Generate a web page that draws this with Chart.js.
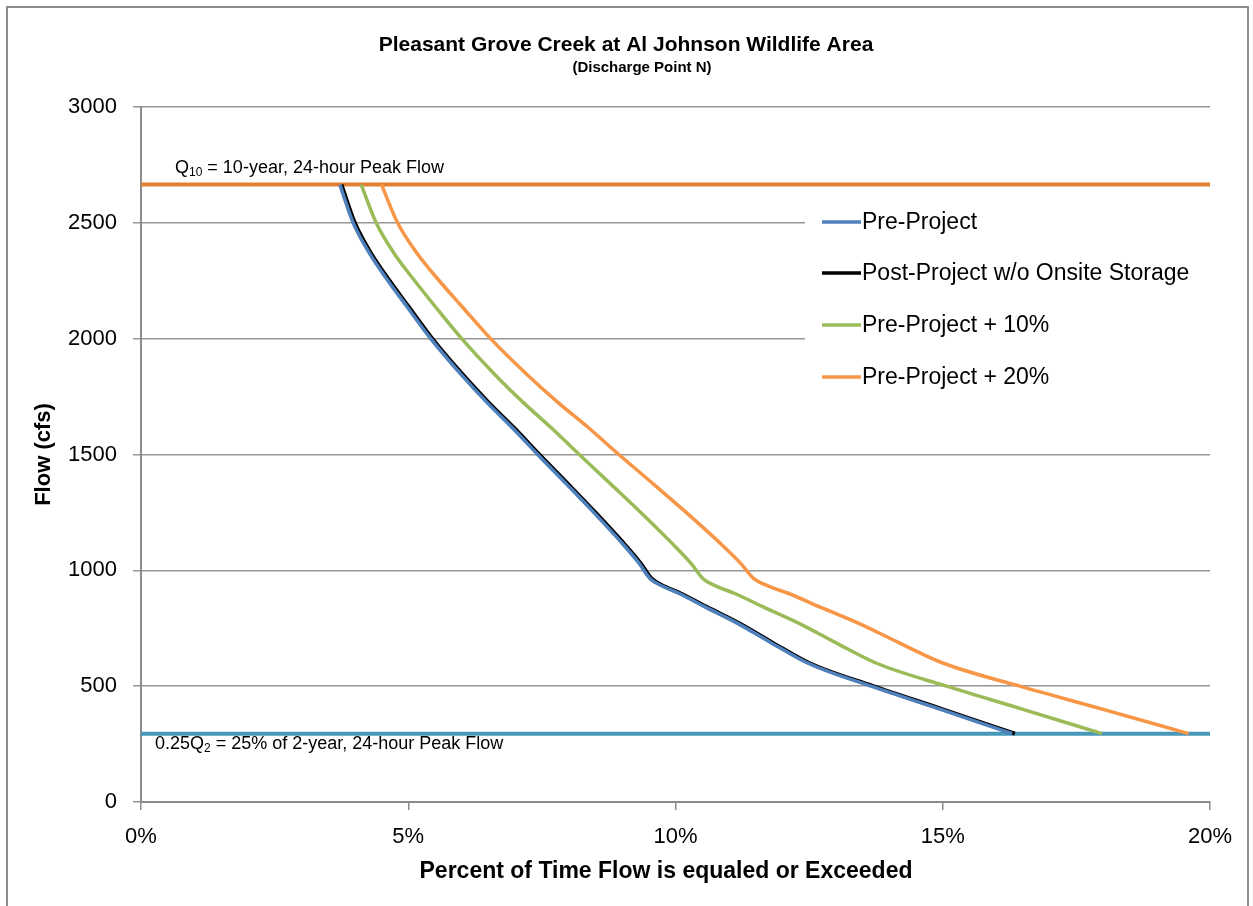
<!DOCTYPE html>
<html>
<head>
<meta charset="utf-8">
<script src="https://cdn.jsdelivr.net/npm/chart.js@4.4.1/dist/chart.umd.min.js"></script>
<style>
  html, body { margin: 0; padding: 0; background: #ffffff; }
  #wrap { position: relative; width: 1253px; height: 906px; }
</style>
</head>
<body>
<div id="wrap"><canvas id="flowChart" width="1253" height="906"></canvas></div>
<script>
// Flow-duration curves: percent of time a flow is equaled or exceeded (x, %) vs flow (y, cfs)
const seriesLabels = ['Pre-Project', 'Post-Project w/o Onsite Storage', 'Pre-Project + 10%', 'Pre-Project + 20%'];
const seriesColors = ['#4F81BD', '#000000', '#9BBB59', '#F79646'];

const preExceed  = [3.72, 3.97, 4.27, 4.62, 4.97, 5.42, 5.97, 6.47, 6.97, 7.42, 7.97, 8.47, 8.97, 9.32, 9.52, 9.77, 10.07, 10.57, 11.17, 11.77, 12.47, 13.66, 14.96, 16.3];
const preFlow    = [2665, 2500, 2370, 2250, 2140, 2000, 1850, 1725, 1610, 1500, 1370, 1250, 1125, 1030, 965, 930, 900, 840, 770, 690, 600, 500, 400, 295];

const postExceed = [3.75, 4.0, 4.3, 4.65, 5.0, 5.45, 6.0, 6.5, 7.0, 7.45, 8.0, 8.5, 9.0, 9.35, 9.55, 9.8, 10.1, 10.6, 11.2, 11.8, 12.5, 13.7, 15.0, 16.35];
const postFlow   = [2665, 2500, 2370, 2250, 2140, 2000, 1850, 1725, 1610, 1500, 1370, 1250, 1125, 1030, 965, 930, 900, 840, 770, 690, 600, 500, 400, 295];

const plus10Exceed = [4.12, 4.4, 4.73, 5.12, 5.5, 6.0, 6.6, 7.15, 7.7, 8.2, 8.8, 9.35, 9.9, 10.29, 10.51, 10.78, 11.11, 11.66, 12.32, 12.98, 13.75, 15.07, 16.5, 17.98];
const plus10Flow   = [2665, 2500, 2370, 2250, 2140, 2000, 1850, 1725, 1610, 1500, 1370, 1250, 1125, 1030, 965, 930, 900, 840, 770, 690, 600, 500, 400, 295];

const plus20Exceed = [4.5, 4.8, 5.16, 5.58, 6.0, 6.54, 7.2, 7.8, 8.4, 8.94, 9.6, 10.2, 10.8, 11.22, 11.46, 11.76, 12.12, 12.72, 13.44, 14.16, 15.0, 16.44, 18.0, 19.6];
const plus20Flow   = [2665, 2500, 2370, 2250, 2140, 2000, 1850, 1725, 1610, 1500, 1370, 1250, 1125, 1030, 965, 930, 900, 840, 770, 690, 600, 500, 400, 295];

// Reference peak flows (cfs)
const q10Flow = 2665;        // 10-year, 24-hour peak
const q2QuarterFlow = 295;   // 25% of 2-year, 24-hour peak

const xTicks = [0, 5, 10, 15, 20];
const yTicks = [0, 500, 1000, 1500, 2000, 2500, 3000];

const FONT = '"Liberation Sans", Arial, sans-serif';

function pairs(xs, ys) { return xs.map((x, i) => ({ x: x, y: ys[i] })); }

const curveData = [pairs(preExceed, preFlow), pairs(postExceed, postFlow), pairs(plus10Exceed, plus10Flow), pairs(plus20Exceed, plus20Flow)];

const datasets = curveData.map((d, i) => ({
  label: seriesLabels[i],
  data: d,
  borderColor: seriesColors[i],
  borderWidth: i === 1 ? 4 : 3.5,
  pointRadius: 0,
  cubicInterpolationMode: 'monotone',
  fill: false
}));
datasets.push({
  label: 'Q10',
  data: [{ x: xTicks[0], y: q10Flow }, { x: xTicks[xTicks.length - 1], y: q10Flow }],
  borderColor: '#E3802F', borderWidth: 4, pointRadius: 0, fill: false
});
datasets.push({
  label: '0.25Q2',
  data: [{ x: xTicks[0], y: q2QuarterFlow }, { x: xTicks[xTicks.length - 1], y: q2QuarterFlow }],
  borderColor: '#4797B8', borderWidth: 4, pointRadius: 0, fill: false
});

// Text with a subscript part, drawn left to right
function drawSub(ctx, parts, x, y, size) {
  let cx = x;
  parts.forEach(p => {
    const s = p.sub ? Math.round(size * 0.65) : size;
    ctx.font = s + 'px ' + FONT;
    ctx.fillText(p.t, cx, p.sub ? y + size * 0.3 : y);
    cx += ctx.measureText(p.t).width;
  });
}

const decorations = {
  id: 'decorations',
  beforeDraw(chart) {
    const ctx = chart.ctx;
    ctx.save();
    ctx.fillStyle = '#ffffff';
    ctx.fillRect(0, 0, chart.width, chart.height);
    ctx.restore();
  },
  beforeDatasetsDraw(chart) {
    // white panel behind the legend hides the gridlines there
    const ctx = chart.ctx;
    ctx.save();
    ctx.fillStyle = '#ffffff';
    ctx.fillRect(805, 196, 410, 212);
    ctx.restore();
  },
  afterDraw(chart) {
    const ctx = chart.ctx;
    const area = chart.chartArea;
    ctx.save();
    // outer frame
    ctx.strokeStyle = '#8c8c8c';
    ctx.lineWidth = 2;
    ctx.strokeRect(7, 7, 1241, 910);

    ctx.fillStyle = '#000000';
    ctx.textAlign = 'center';
    ctx.textBaseline = 'middle';
    ctx.font = 'bold 21px ' + FONT;
    ctx.fillText('Pleasant Grove Creek at Al Johnson Wildlife Area', 626, 45);
    ctx.font = 'bold 15px ' + FONT;
    ctx.fillText('(Discharge Point N)', 642, 68);

    ctx.font = 'bold 23px ' + FONT;
    ctx.fillText('Percent of Time Flow is equaled or Exceeded', 666, 872);
    ctx.save();
    ctx.font = 'bold 22px ' + FONT;
    ctx.translate(44, (area.top + area.bottom) / 2);
    ctx.rotate(-Math.PI / 2);
    ctx.fillText('Flow (cfs)', 0, 0);
    ctx.restore();

    // reference line labels
    ctx.textAlign = 'left';
    const yS = chart.scales.y;
    drawSub(ctx, [{ t: 'Q' }, { t: '10', sub: true }, { t: ' = 10-year, 24-hour Peak Flow' }], 175, yS.getPixelForValue(q10Flow) - 17, 18);
    drawSub(ctx, [{ t: '0.25Q' }, { t: '2', sub: true }, { t: ' = 25% of 2-year, 24-hour Peak Flow' }], 155, yS.getPixelForValue(q2QuarterFlow) + 10, 18);

    // legend
    ctx.font = '23px ' + FONT;
    const rows = [222, 273, 325, 377];
    seriesLabels.forEach((lab, i) => {
      ctx.strokeStyle = seriesColors[i];
      ctx.lineWidth = 3.5;
      ctx.beginPath();
      ctx.moveTo(822, rows[i]);
      ctx.lineTo(861, rows[i]);
      ctx.stroke();
      ctx.fillStyle = '#000000';
      ctx.textBaseline = 'middle';
      ctx.fillText(lab, 862, rows[i] + 1);
    });
    ctx.restore();
  }
};

new Chart(document.getElementById('flowChart'), {
  type: 'line',
  data: { datasets: datasets },
  options: {
    responsive: false,
    animation: false,
    devicePixelRatio: 1,
    layout: { padding: { top: 107, right: 43, left: 0, bottom: 0 } },
    plugins: { legend: { display: false }, title: { display: false }, tooltip: { enabled: false } },
    scales: {
      x: {
        type: 'linear', min: 0, max: 20,
        afterFit(scale) { scale.height = 104; },
        afterBuildTicks(scale) { scale.ticks = xTicks.map(v => ({ value: v })); },
        ticks: { callback: v => v + '%', color: '#000000', font: { family: FONT, size: 22 }, padding: 14, maxRotation: 0 },
        grid: { drawOnChartArea: false, drawTicks: true, tickLength: 8, color: '#8c8c8c', lineWidth: 1.5 },
        border: { display: true, color: '#8c8c8c', width: 2 }
      },
      y: {
        type: 'linear', min: 0, max: 3000,
        afterFit(scale) { scale.width = 141; },
        afterBuildTicks(scale) { scale.ticks = yTicks.map(v => ({ value: v })); },
        ticks: { callback: v => String(v), color: '#000000', font: { family: FONT, size: 22 }, padding: 16 },
        grid: { drawOnChartArea: true, drawTicks: true, tickLength: 8, color: '#969696', lineWidth: 1.5 },
        border: { display: true, color: '#8c8c8c', width: 2 }
      }
    }
  },
  plugins: [decorations]
});
</script>
</body>
</html>
